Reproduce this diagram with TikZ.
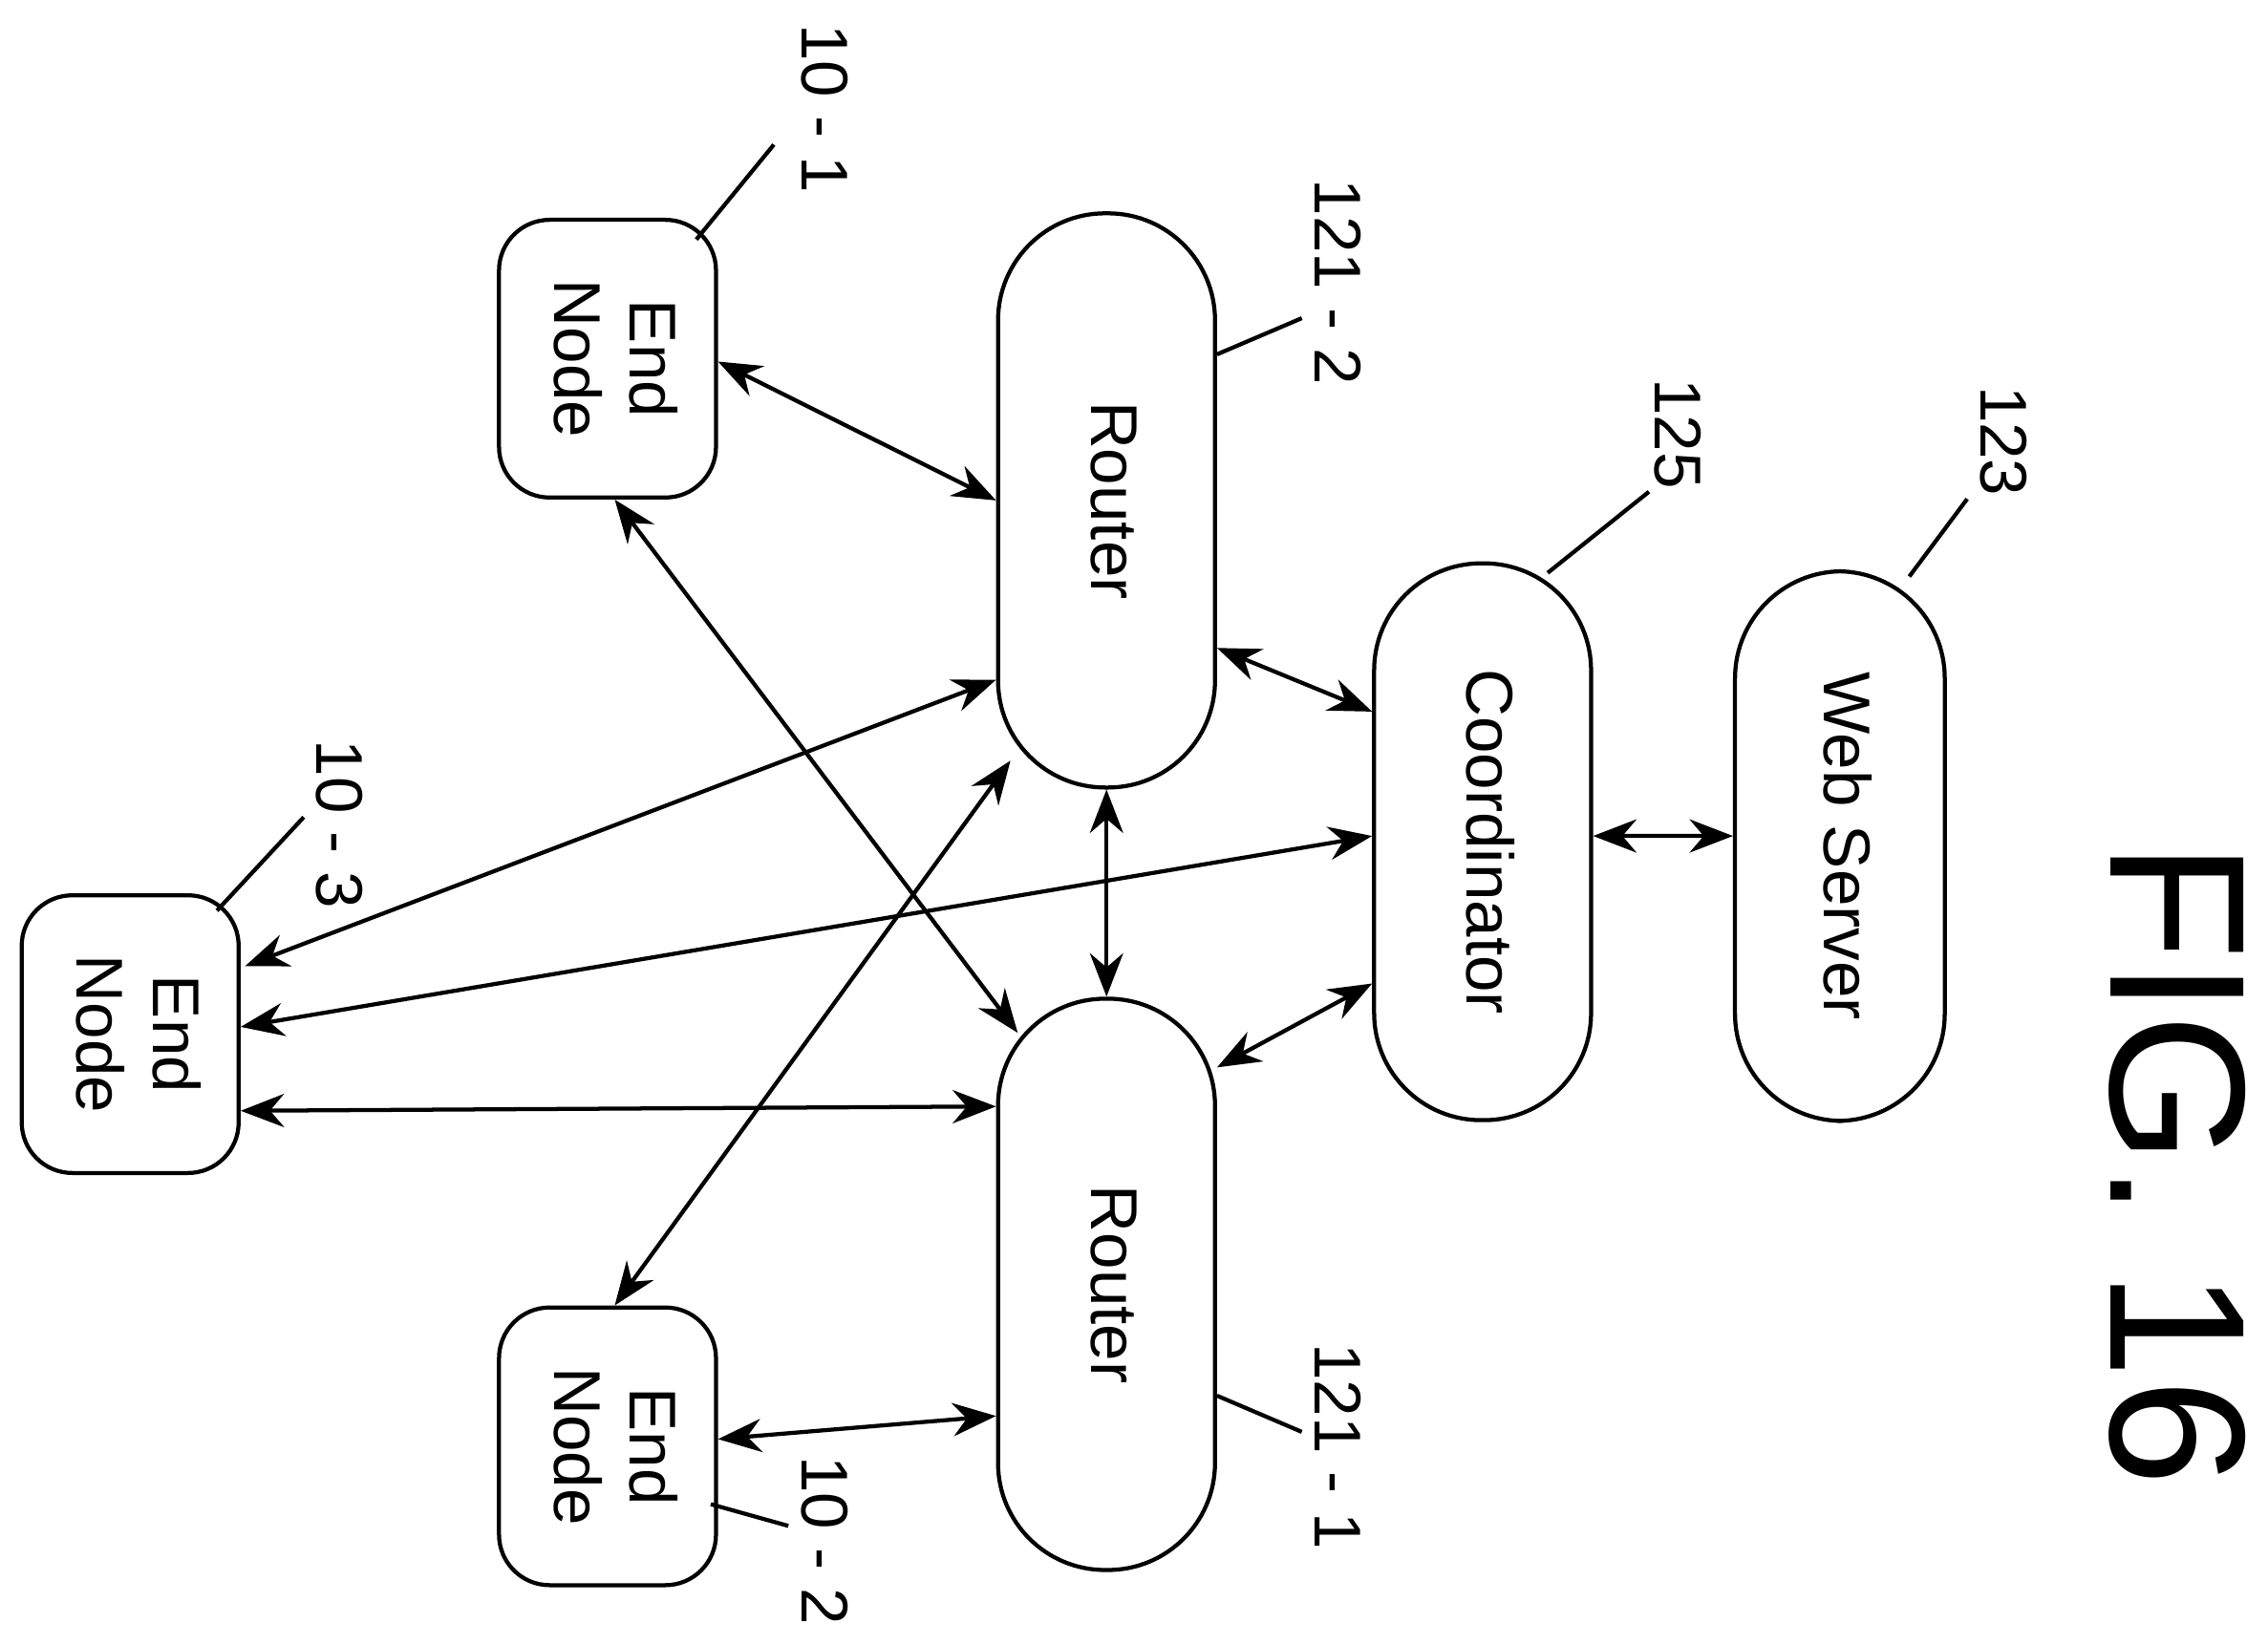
\documentclass[tikz,border=0pt]{standalone}
\usepackage{fontspec}
\setmainfont{Liberation Sans}
\usepackage{graphicx}
\usetikzlibrary{calc,positioning,arrows.meta}
\tikzstyle{endnode} = [rectangle, draw, line width=0.8pt, rounded corners=0.35cm, minimum width=1.5cm, minimum height=1.92cm, inner sep=0pt]
\tikzstyle{pill} = [rectangle, draw, line width=0.8pt, rounded corners=0.74cm, minimum width=1.5cm, inner sep=0pt]
\tikzstyle{line} = [draw, line width=0.8pt, {Stealth[length=3mm,width=2.3mm]}-{Stealth[length=3mm,width=2.3mm]}]
\tikzstyle{lead} = [draw, line width=0.8pt]
\tikzstyle{ref} = [rotate=-90, font=\fontsize{13}{15}\selectfont]
\newcommand{\rtext}[1]{\rotatebox{-90}{\fontsize{13}{15}\selectfont\begin{tabular}{c}#1\end{tabular}}}

\begin{document}
\begin{tikzpicture}
    \useasboundingbox (0,0) rectangle (15.68,11.37);
    % Blocks
    \node [endnode] (en1) at (4.20,8.89) {\rtext{End\\Node}};
    \node [endnode] (en2) at (4.20,1.37) {\rtext{End\\Node}};
    \node [endnode] (en3) at (0.90,4.22) {\rtext{End\\Node}};
    \node [pill, minimum height=3.97cm] (r2) at (7.65,7.91) {\rtext{Router}};
    \node [pill, minimum height=3.95cm] (r1) at (7.65,2.49) {\rtext{Router}};
    \node [pill, minimum height=3.85cm] (coord) at (10.25,5.55) {\rtext{Coordinator}};
    \node [pill, minimum height=3.80cm, minimum width=1.45cm] (ws) at (12.72,5.52) {\rtext{Web Server}};
    % Reference labels
    \node [ref] (l101) at (5.70,10.62) {10 - 1};
    \node [ref] (l1212) at (9.25,9.42) {121 - 2};
    \node [ref] (l125) at (11.60,8.37) {125};
    \node [ref] (l123) at (13.85,8.32) {123};
    \node [ref] (l103) at (2.35,5.67) {10 - 3};
    \node [ref] (l1211) at (9.25,1.37) {121 - 1};
    \node [ref] (l102) at (5.70,0.72) {10 - 2};
    \node [rotate=-90, font=\fontsize{38}{40}\selectfont] (fig) at (15.05,3.32) {FIG. 16};
    % Leaders
    \coordinate (c101) at (5.35,10.37);
    \coordinate (c1212) at (9.00,9.17);
    \coordinate (c125) at (11.40,7.97);
    \coordinate (c123) at (13.60,7.92);
    \coordinate (c103) at (2.10,5.72);
    \coordinate (c1211) at (9.00,1.47);
    \coordinate (c102) at (5.45,0.82);
    \path [lead] ([xshift=-0.15cm,yshift=-0.15cm]en1.north east) -- (c101);
    \path [lead] ([yshift=1.01cm]r2.east) -- (c1212);
    \path [lead] ([xshift=0.45cm,yshift=-0.08cm]coord.north) -- (c125);
    \path [lead] ([xshift=0.48cm,yshift=-0.05cm]ws.north) -- (c123);
    \path [lead] ([xshift=0.6cm,yshift=-0.12cm]en3.north) -- (c103);
    \path [lead] ([yshift=-0.77cm]r1.east) -- (c1211);
    \path [lead] ([xshift=-0.05cm,yshift=-0.4cm]en2.east) -- (c102);
    % Lines
    \path [line] ([yshift=-0.02cm]en1.east) -- (r2.west);
    \path [line] ([xshift=0.05cm]en1.south) -- ([xshift=0.15cm,yshift=-0.25cm]r1.north west);
    \path [line] ([yshift=-1.24cm]r2.west) -- ([xshift=0.03cm,yshift=0.47cm]en3.east);
    \path [line] ([xshift=0.1cm,yshift=0.2cm]r2.south west) -- ([xshift=0.05cm]en2.north);
    \path [line] (r2.south) -- (r1.north);
    \path [line] ([yshift=-1.02cm]r2.east) -- ([yshift=0.9cm]coord.west);
    \path [line] ([yshift=0.04cm]coord.west) -- ([yshift=0.05cm]en3.east);
    \path [line] ([yshift=-0.98cm]coord.west) -- ([yshift=1.5cm]r1.east);
    \path [line] ([yshift=0.04cm]coord.east) -- ([yshift=0.07cm]ws.west);
    \path [line] ([yshift=-0.53cm]en3.east) -- ([yshift=1.23cm]r1.west);
    \path [line] ([yshift=-0.91cm]r1.west) -- ([yshift=0.05cm]en2.east);
\end{tikzpicture}
\end{document}
